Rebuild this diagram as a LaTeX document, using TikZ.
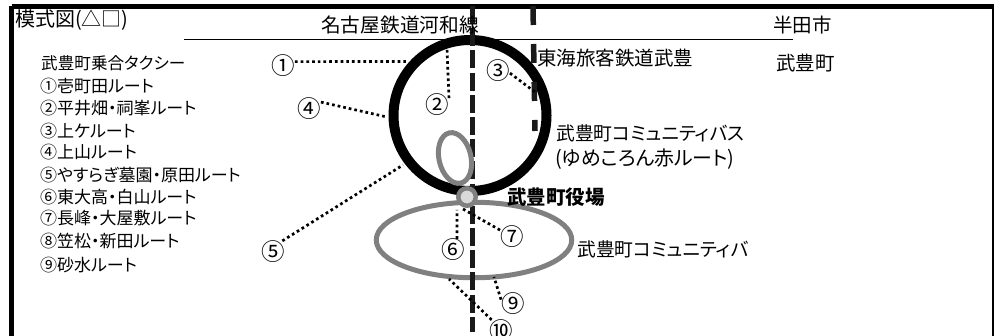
\documentclass[tikz,border=0pt]{standalone}
\usepackage{fontspec}
\setmainfont{Noto Sans CJK JP}[RawFeature=+palt]
\usetikzlibrary{shapes.geometric}
\definecolor{routegray}{HTML}{808080}
\definecolor{stopgray}{HTML}{D9D9D9}
\definecolor{railblack}{HTML}{1A1A1A}
\tikzset{
	txt/.style={anchor=west, inner sep=0pt, font=\fontsize{#1}{#1}\selectfont},
	num/.style={inner sep=0pt, font=\fontsize{23.5}{23.5}\selectfont},
	frameline/.style={line width=5pt},
	railmain/.style={railblack, line width=5pt, dash pattern=on 18pt off 4.2pt},
	railjr/.style={railblack, line width=5.5pt, dash pattern=on 19pt off 19pt},
	leader/.style={line width=2.7pt, dash pattern=on 2.7pt off 3pt},
	loopbus/.style={ellipse, draw, inner sep=0pt, line width=10pt},
	loopgray/.style={ellipse, draw=routegray, inner sep=0pt, line width=5pt},
}
\begin{document}
\begin{tikzpicture}[x=1pt, y=-1pt]
		\useasboundingbox (0,0) rectangle (994,336);
		
		% frame, open at the bottom
		\coordinate (ftl) at (11.5,6.5);
		\coordinate (ftr) at (994,6.5);
		\coordinate (fbl) at (11.5,336);
		\coordinate (frt) at (992.5,5);
		\coordinate (frb) at (992.5,336);
		\coordinate (bl) at (184,39.5);
		\coordinate (br) at (793,39.5);
		\draw[frameline] (ftl) -- (ftr);
		\draw[frameline] (ftl) -- (fbl);
		\draw[line width=2pt] (frt) -- (frb);
		\draw[line width=1.5pt] (bl) -- (br);
		
		\node[loopbus, minimum width=153pt, minimum height=151pt] (bus) at (470,115.5) {};
		\node[loopgray, minimum width=195.5pt, minimum height=75.5pt] (wide) at (474,240) {};
		
		% railways
		\coordinate (m1) at (472,6);
		\coordinate (m2) at (472,332);
		\coordinate (j1) at (533,6);
		\coordinate (j2) at (535,131);
		\draw[railmain] (m1) -- (m2);
		\draw[railjr] (j1) -- (j2);
		
		\node[loopgray, minimum width=32pt, minimum height=51.5pt, rotate=13] (tall) at (455,158) {};
		\node[circle, draw=routegray, fill=stopgray, line width=4.5pt, inner sep=0pt, minimum size=17.5pt] (hall) at (467,197) {};
		
		% title and list
		\node[txt=20] (title) at (15,20) {模式図(△□)};
		\node[txt=16.6] (head) at (41,63) {武豊町乗合タクシー};
		\node[txt=17] (r1) at (40,86) {①壱町田ルート};
		\node[txt=17] (r2) at (40,108.5) {②平井畑・祠峯ルート};
		\node[txt=17] (r3) at (40,131) {③上ケルート};
		\node[txt=17] (r4) at (40,152.5) {④上山ルート};
		\node[txt=17] (r5) at (40,175) {⑤やすらぎ墓園・原田ルート};
		\node[txt=17] (r6) at (40,197) {⑥東大高・白山ルート};
		\node[txt=17] (r7) at (40,218.5) {⑦長峰・大屋敷ルート};
		\node[txt=17] (r8) at (40,241.5) {⑧笠松・新田ルート};
		\node[txt=17] (r9) at (40,265) {⑨砂水ルート};
		
		% place names
		\node[txt=19.7] (meitetsu) at (321,25) {名古屋鉄道河和線};
		\node[txt=19.5] (handa) at (773,25) {半田市};
		\node[txt=19.5] (taketoyo) at (776,63) {武豊町};
		\node[txt=19.5] (jr) at (537,58) {東海旅客鉄道武豊};
		\node[txt=18.8] (busa) at (556,133) {武豊町コミュニティバス};
		\node[txt=19.9] (busb) at (555,159) {(ゆめころん赤ルート)};
		\node[txt=19.5, font=\fontsize{19.5}{19.5}\selectfont\bfseries] (hallname) at (507,197) {武豊町役場};
		\node[txt=18.8] (busc) at (577,249) {武豊町コミュニティバ};
		
		% route numbers
		\node[num] (n1) at (283,66) {①};
		\node[num] (n2) at (437,105) {②};
		\node[num] (n3) at (498,71) {③};
		\node[num] (n4) at (309,109) {④};
		\node[num] (n5) at (273,252) {⑤};
		\node[num] (n6) at (453,250) {⑥};
		\node[num] (n7) at (512,237) {⑦};
		\node[num] (n9) at (513,304) {⑨};
		\node[num] (n10) at (501,331) {⑩};
		
		\coordinate (e1) at (408,61.5);
		\coordinate (e2) at (447,48);
		\coordinate (e3) at (535,92);
		\coordinate (e4) at (387,117);
		\coordinate (e5) at (403,165);
		\coordinate (e6) at (457,210);
		\coordinate (e7) at (463,209);
		\coordinate (e9) at (494,277);
		\coordinate (e10) at (449,279);
		
		\foreach \from/\to in {n1.20/e1,n2.30/e2,n3.-10/e3,n4.30/e4,n5.50/e5,n6.70/e6,n7.150/e7,n9.160/e9,n10.130/e10}
		\draw[leader] (\from) -- (\to);
		\end{tikzpicture}
\end{document}
